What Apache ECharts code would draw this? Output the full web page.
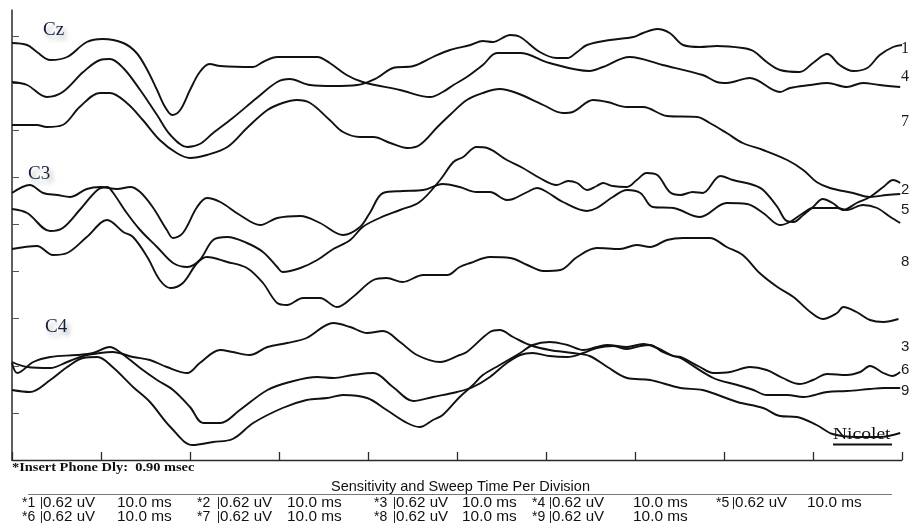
<!DOCTYPE html>
<html>
<head>
<meta charset="utf-8">
<script src="https://cdn.jsdelivr.net/npm/echarts@6/dist/echarts.min.js"></script>
<style>
html,body{margin:0;padding:0;background:#fff;}
#chart{width:911px;height:529px;}
</style>
</head>
<body>
<div id="chart"></div>
<script>
// Time in ms (sweep 10.0 ms per division, 10 divisions).
// Amplitude in display units (one vertical division = 47.1 units, 0.62 uV).

// ---- Cz group ----
const cz1 = [[0,417],[1.7,415],[2.8,408],[4.3,400],[6.2,403],[8.4,418],[10.2,421],[12.5,417],[14.0,407],[15.2,390],[16.3,370],[17.2,353],[18.0,345],[18.9,350],[20.0,370],[21.1,388],[22.2,396],[23.4,394],[27.1,393],[28.2,398],[29.8,403],[34.3,403],[35.7,397],[37.6,385],[39.4,378],[43.6,370],[47.0,363],[48.4,368],[49.6,375],[51.1,383],[52.9,395],[54.5,407],[57.1,407],[60.4,397],[64.9,389],[66.4,393],[69.4,403],[73.1,395],[77.6,385],[79.2,378],[80.3,377],[82.9,382],[86.3,368],[87.4,372],[89.7,375],[91.6,377],[93.8,373],[95.6,377],[97.5,375],[99.8,373]];
const cz4 = [[0,378],[1.7,375],[3.9,363],[5.7,368],[8.0,388],[9.9,400],[11.0,401],[12.5,392],[14.4,370],[16.3,345],[17.8,325],[19.7,313],[21.1,316],[22.6,327],[24.8,342],[27.5,362],[29.8,378],[31.2,381],[33.5,375],[36.1,374],[38.8,375],[41.0,382],[42.8,392],[45.1,394],[47.3,403],[49.2,410],[51.5,415],[52.9,419],[54.0,418],[56.0,425],[57.1,423],[59.3,408],[61.2,402],[62.4,402],[63.5,408],[64.6,415],[67.2,420],[69.8,423],[70.9,427],[72.5,431],[73.9,427],[75.4,415],[77.3,413],[79.2,414],[82.1,412],[83.3,409],[84.8,398],[86.3,390],[88.5,388],[90.0,397],[91.6,406],[93.0,395],[94.5,389],[96.1,392],[97.5,405],[99.0,413],[100,415]];
const cz7 = [[0,335],[2.8,335],[3.9,333],[5.7,335],[7.6,353],[9.9,367],[11.0,367],[12.9,357],[14.7,340],[16.6,320],[18.5,307],[20.0,302],[21.9,305],[24.2,313],[26.4,332],[28.7,350],[30.4,357],[32.0,360],[33.5,357],[35.7,340],[37.2,328],[39.1,323],[40.6,323],[42.5,317],[44.4,312],[45.8,315],[47.8,333],[49.2,345],[51.1,360],[52.9,367],[54.8,371],[56.7,367],[59.7,355],[61.9,347],[63.0,348],[65.3,360],[66.9,358],[69.1,353],[70.9,353],[73.6,344],[77.0,343],[78.4,337],[80.3,327],[82.1,317],[84.4,310],[87.1,300],[88.9,290],[90.4,278],[91.9,272],[94.5,267],[96.4,263],[98.3,265],[99.8,266]];

// ---- C3 group ----
const c3_2 = [[0,267],[2.0,275],[3.5,267],[5.1,265],[6.5,263],[8.4,271],[9.9,273],[11.8,271],[13.3,273],[14.4,268],[15.8,253],[17.4,230],[18.1,222],[19.2,227],[20.8,253],[21.9,262],[23.4,258],[25.6,245],[27.9,235],[29.8,242],[32.4,244],[34.6,237],[37.2,225],[39.1,233],[40.2,247],[41.7,267],[43.9,269],[46.2,270],[48.4,276],[50.3,273],[52.2,268],[53.7,268],[55.6,260],[56.3,261],[57.9,268],[59.0,272],[60.1,268],[61.9,258],[64.6,249],[65.7,252],[67.5,263],[69.1,270],[70.6,267],[72.0,253],[74.3,252],[77.3,243],[80.3,257],[82.6,256],[84.4,247],[86.3,235],[87.4,238],[88.9,247],[90.0,252],[92.7,252],[93.8,250],[95.6,255],[97.2,252],[98.7,243],[99.8,237]];
const c3_5 = [[0,251],[1.7,247],[4.3,229],[5.7,232],[7.6,250],[9.6,270],[10.7,273],[11.3,268],[12.9,247],[14.4,230],[16.3,213],[18.1,197],[19.7,193],[21.1,200],[22.6,220],[24.2,223],[26.4,217],[28.2,208],[29.8,193],[30.4,188],[32.4,192],[34.3,200],[36.1,211],[38.0,220],[39.4,233],[41.3,242],[43.6,250],[45.8,258],[48.1,280],[49.6,298],[50.7,303],[52.2,313],[53.4,312],[55.6,300],[57.4,292],[59.3,282],[61.2,275],[62.5,279],[63.5,277],[64.6,270],[65.7,274],[66.4,277],[67.5,274],[69.1,273],[70.2,280],[71.3,287],[72.5,285],[73.9,268],[75.1,265],[76.5,268],[77.6,267],[79.6,284],[81.0,280],[83.3,275],[84.4,270],[86.0,253],[86.9,240],[87.8,238],[88.9,245],[90.0,253],[91.1,261],[92.2,257],[93.4,250],[94.9,257],[96.4,263],[97.9,273],[99.0,280],[99.8,277]];
const c3_8 = [[0,211],[2.8,214],[4.6,205],[6.2,207],[8.4,223],[10.7,240],[12.5,228],[13.6,223],[15.2,203],[16.6,180],[17.8,172],[19.2,177],[20.8,197],[21.9,203],[24.2,198],[26.4,192],[28.2,177],[29.8,157],[30.9,155],[32.7,162],[34.6,162],[36.5,153],[38.3,163],[40.6,180],[42.1,182],[43.9,178],[46.2,185],[48.9,185],[50.3,193],[51.5,197],[53.7,203],[56.0,202],[57.9,195],[59.7,189],[61.6,190],[63.5,203],[65.7,212],[68.3,211],[70.2,215],[71.7,213],[73.6,220],[75.4,222],[78.4,222],[80.3,213],[82.1,205],[84.0,187],[86.0,173],[87.8,163],[89.7,148],[91.1,141],[92.7,147],[93.4,153],[94.9,148],[96.4,140],[97.9,138],[99.6,141]];

// ---- C4 group ----
const c4_3 = [[0,98],[1.7,93],[4.3,92],[6.2,98],[8.0,104],[9.9,107],[11.3,108],[13.6,103],[15.5,100],[17.4,93],[19.7,87],[21.1,97],[23.4,110],[24.8,108],[26.7,105],[28.7,113],[30.9,117],[33.1,122],[36.1,137],[38.0,133],[39.9,127],[41.7,129],[43.6,118],[45.5,105],[48.1,98],[50.3,105],[51.1,108],[53.7,128],[54.8,130],[56.3,123],[58.2,115],[60.4,110],[63.0,107],[64.9,104],[66.9,93],[69.1,82],[71.7,80],[75.1,72],[77.6,70],[81.5,58],[84.4,52],[86.3,44],[88.2,43],[90.4,35],[92.2,26],[94.9,23],[97.5,23],[99.8,27]];
const c4_6 = [[0,97],[0.6,87],[2.4,98],[4.3,103],[7.3,105],[9.1,107],[11.0,113],[12.1,108],[14.4,92],[16.3,80],[18.1,70],[20.0,53],[21.5,37],[23.4,37],[25.6,50],[28.7,70],[31.2,78],[34.3,83],[36.1,82],[38.3,85],[40.6,87],[42.8,73],[45.1,59],[47.3,63],[50.0,68],[51.8,73],[53.7,83],[55.6,97],[57.1,105],[58.5,107],[60.4,104],[62.4,103],[64.2,107],[65.7,112],[67.5,114],[69.1,111],[70.6,114],[71.7,115],[73.1,108],[74.3,104],[75.1,103],[77.3,93],[78.8,87],[80.7,88],[82.9,93],[84.8,90],[86.6,82],[88.5,76],[90.0,80],[91.6,86],[93.8,85],[95.3,88],[96.4,94],[97.9,87],[98.9,84],[99.8,88]];
const c4_9 = [[0,70],[2.0,68],[4.3,80],[6.2,93],[8.0,102],[9.6,103],[11.3,93],[13.6,73],[15.5,58],[17.8,33],[20.3,15],[22.6,18],[24.8,21],[27.1,37],[30.4,52],[33.1,60],[35.4,62],[37.2,65],[39.9,62],[42.1,50],[44.4,37],[45.8,33],[47.3,40],[48.4,45],[50.3,63],[51.8,75],[52.9,85],[54.8,95],[57.1,107],[58.5,115],[60.4,118],[62.4,115],[64.2,110],[65.7,113],[66.9,115],[69.1,113],[70.9,116],[72.5,112],[74.3,104],[75.1,102],[78.8,82],[81.5,75],[83.3,70],[84.8,65],[87.1,65],[88.9,63],[91.6,68],[93.8,69],[96.4,71],[97.9,72],[99.8,72]];

// ---- labels / ticks ----
const traceData = [cz1, cz4, cz7, c3_2, c3_5, c3_8, c4_3, c4_6, c4_9];
const traceNames = ['Cz 1', 'Cz 4', 'Cz 7', 'C3 2', 'C3 5', 'C3 8', 'C4 3', 'C4 6', 'C4 9'];
const channelLabels = ['1', '4', '7', '2', '5', '8', '3', '6', '9'];
const groupLabels = ['Cz', 'C3', 'C4'];
const timeDivision = 10;          // ms per division
const ampDivision = 47.1;         // display units per division
const divisionCount = 9;
const sensChannels = ['1','2','3','4','5','6','7','8','9'];
const sensValues = ['0.62 uV','0.62 uV','0.62 uV','0.62 uV','0.62 uV','0.62 uV','0.62 uV','0.62 uV','0.62 uV'];
const sweepValues = ['10.0 ms','10.0 ms','10.0 ms','10.0 ms','10.0 ms','10.0 ms','10.0 ms','10.0 ms','10.0 ms'];
const headerText = 'Sensitivity and Sweep Time Per Division';
const delayText = '*Insert Phone Dly:  0.90 msec';
const brandText = 'Nicolet';

const ampTicks = [];
for (let k = 1; k <= divisionCount; k++) ampTicks.push(+(k * ampDivision).toFixed(1));

const chart = echarts.init(document.getElementById('chart'), null, {renderer: 'canvas'});

const series = traceData.map((d, i) => ({
  name: traceNames[i],
  type: 'line',
  data: d,
  smooth: 0.35,
  showSymbol: false,
  symbol: 'none',
  animation: false,
  lineStyle: {color: '#111111', width: 1.9},
  z: 3
}));

const graphic = [];
// right-side channel numbers
const chanY = [49, 77, 122, 190, 210, 262, 347, 370, 391];
channelLabels.forEach((t, i) => {
  const serif = (i < 3);
  graphic.push({
    type: 'text', x: 901, y: chanY[i],
    style: {text: t, fill: '#1a1a1a', font: (serif ? '16px "Liberation Serif"' : '15px "Liberation Sans"'),
            textAlign: 'left', textVerticalAlign: 'middle', align: 'left', verticalAlign: 'middle'}
  });
});
// group labels with soft shadow
const groupPos = [[43, 30], [28, 174], [45, 327]];
groupLabels.forEach((t, i) => {
  graphic.push({
    type: 'text', x: groupPos[i][0], y: groupPos[i][1],
    style: {text: t, fill: '#15203a', font: '19px "Liberation Serif"',
            textAlign: 'left', textVerticalAlign: 'middle', align: 'left', verticalAlign: 'middle',
            textShadowColor: 'rgba(0,0,0,0.35)', textShadowBlur: 5, textShadowOffsetX: 3, textShadowOffsetY: 4}
  });
});
// insert phone delay
graphic.push({
  type: 'text', x: 12, y: 468, scaleX: 1.2,
  style: {text: delayText, fill: '#111', font: 'bold 12px "Liberation Serif"',
          textAlign: 'left', textVerticalAlign: 'middle', align: 'left', verticalAlign: 'middle'}
});
// header + rule
graphic.push({
  type: 'text', x: 331, y: 487,
  style: {text: headerText, fill: '#111', font: '14.5px "Liberation Sans"',
          textAlign: 'left', textVerticalAlign: 'middle', align: 'left', verticalAlign: 'middle'}
});
graphic.push({
  type: 'line', shape: {x1: 28, y1: 494.5, x2: 892, y2: 494.5},
  style: {stroke: '#777', lineWidth: 1}
});
// sensitivity table
const colX = [[22, 43, 117], [197, 220, 287], [374, 396, 462], [532, 552, 633], [716, 735, 807]];
const rowY = [503, 517];
sensChannels.forEach((c, i) => {
  const row = i < 5 ? 0 : 1;
  const col = i < 5 ? i : i - 5;
  const [cx, ux, mx] = colX[col];
  const y = rowY[row];
  const st = {fill: '#111', font: '14px "Liberation Sans"', textAlign: 'left', textVerticalAlign: 'middle', align: 'left', verticalAlign: 'middle'};
  graphic.push({type: 'text', x: cx, y: y, style: Object.assign({}, st, {text: '*' + c})});
  graphic.push({type: 'text', x: ux, y: y, scaleX: 1.08, style: Object.assign({}, st, {text: sensValues[i]})});
  graphic.push({type: 'text', x: mx, y: y, scaleX: 1.1, style: Object.assign({}, st, {text: sweepValues[i]})});
  graphic.push({type: 'line', shape: {x1: ux - 1.5, y1: y - 6, x2: ux - 1.5, y2: y + 6}, style: {stroke: '#222', lineWidth: 1}});
});
// brand
graphic.push({
  type: 'text', x: 833, y: 435, scaleX: 1.15, z: 10,
  style: {text: brandText, fill: '#111', font: '17px "Liberation Serif"',
          textAlign: 'left', textVerticalAlign: 'middle', align: 'left', verticalAlign: 'middle'}
});
graphic.push({
  type: 'line', shape: {x1: 833, y1: 444.5, x2: 892, y2: 444.5},
  style: {stroke: '#111', lineWidth: 2.2}, z: 10
});

chart.setOption({
  animation: false,
  backgroundColor: '#ffffff',
  grid: {left: 12, right: 9, top: 10, bottom: 69, containLabel: false},
  xAxis: {
    type: 'value', min: 0, max: 100, interval: timeDivision,
    axisLine: {show: true, onZero: false, lineStyle: {color: '#2a2a2a', width: 1.3}},
    axisTick: {show: true, inside: true, length: 8, lineStyle: {color: '#2a2a2a', width: 1.3}},
    axisLabel: {show: false},
    splitLine: {show: false}
  },
  yAxis: {
    type: 'value', min: 0, max: 450,
    axisLine: {show: true, onZero: false, lineStyle: {color: '#2a2a2a', width: 1.5}},
    axisTick: {show: true, inside: true, length: 7, customValues: ampTicks, lineStyle: {color: '#555', width: 1}},
    axisLabel: {show: false},
    splitLine: {show: false}
  },
  series: series,
  graphic: graphic
});
</script>
</body>
</html>
